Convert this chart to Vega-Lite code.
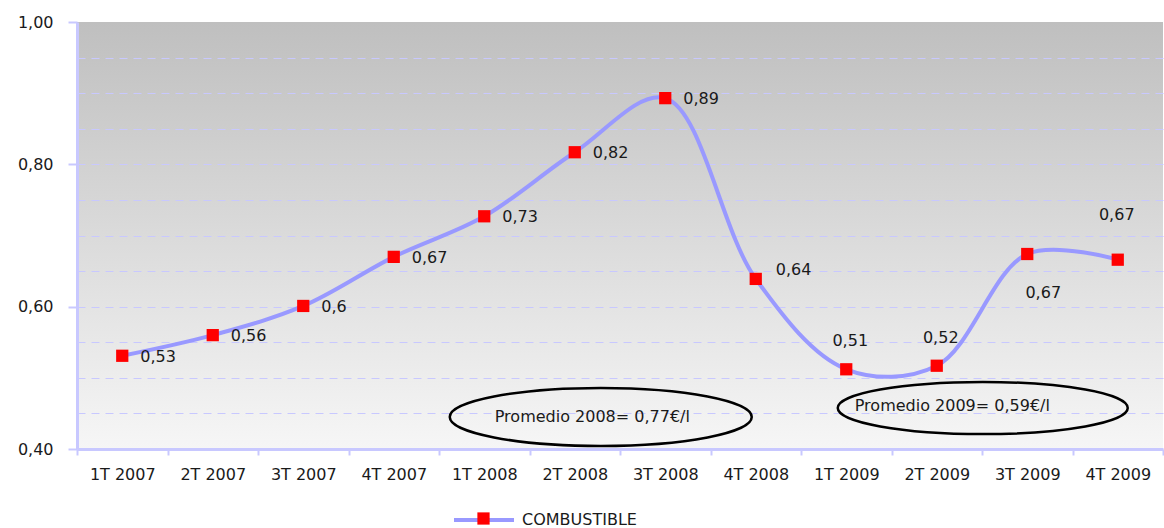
{
  "$schema": "https://vega.github.io/schema/vega-lite/v6.json",
  "autosize": "none",
  "padding": {"left": 77, "top": 22, "right": 1, "bottom": 79},
  "width": 1086,
  "height": 427,
  "background": "#ffffff",
  "config": {
    "font": "DejaVu Sans",
    "view": {
      "stroke": null,
      "fill": {"gradient": "linear", "x1": 0, "y1": 0, "x2": 0, "y2": 1,
        "stops": [{"offset": 0, "color": "#bfbfbf"}, {"offset": 1, "color": "#f6f6f6"}]}
    },
    "axis": {"labelFont": "DejaVu Sans", "labelFontSize": 16, "labelColor": "#1a1a1a", "title": null}
  },
  "data": {"values": [
    {"q": "1T 2007", "v": 0.531, "label": "0,53", "serie": "COMBUSTIBLE"},
    {"q": "2T 2007", "v": 0.560, "label": "0,56", "serie": "COMBUSTIBLE"},
    {"q": "3T 2007", "v": 0.601, "label": "0,6", "serie": "COMBUSTIBLE"},
    {"q": "4T 2007", "v": 0.670, "label": "0,67", "serie": "COMBUSTIBLE"},
    {"q": "1T 2008", "v": 0.727, "label": "0,73", "serie": "COMBUSTIBLE"},
    {"q": "2T 2008", "v": 0.817, "label": "0,82", "serie": "COMBUSTIBLE"},
    {"q": "3T 2008", "v": 0.893, "label": "0,89", "serie": "COMBUSTIBLE"},
    {"q": "4T 2008", "v": 0.639, "label": "0,64", "serie": "COMBUSTIBLE"},
    {"q": "1T 2009", "v": 0.512, "label": "0,51", "serie": "COMBUSTIBLE"},
    {"q": "2T 2009", "v": 0.517, "label": "0,52", "serie": "COMBUSTIBLE"},
    {"q": "3T 2009", "v": 0.674, "label": "0,67", "serie": "COMBUSTIBLE"},
    {"q": "4T 2009", "v": 0.666, "label": "0,67", "serie": "COMBUSTIBLE"}
  ]},
  "encoding": {
    "x": {"field": "q", "type": "nominal", "sort": null,
      "scale": {"type": "band", "paddingInner": 0, "paddingOuter": 0,
        "domain": ["1T 2007", "2T 2007", "3T 2007", "4T 2007", "1T 2008", "2T 2008", "3T 2008", "4T 2008", "1T 2009", "2T 2009", "3T 2009", "4T 2009"]},
      "axis": {"labelAngle": 0, "tickBand": "extent", "grid": false, "domainColor": "#c8c8ff", "domainWidth": 3,
        "tickColor": "#c8c8ff", "tickWidth": 2, "tickSize": 6, "labelPadding": 11}},
    "y": {"field": "v", "type": "quantitative",
      "scale": {"domain": [0.4, 1.0], "nice": false, "zero": false},
      "axis": {"values": [0.4, 0.45, 0.5, 0.55, 0.6, 0.65, 0.7, 0.75, 0.8, 0.85, 0.9, 0.95, 1.0],
        "labelExpr": "abs(datum.value*5 - round(datum.value*5)) < 0.001 ? replace(format(datum.value, '.2f'), '.', ',') : ''",
        "labelOverlap": false, "labelPadding": 15,
        "domainColor": "#c8c8ff", "domainWidth": 3,
        "tickColor": "#c8c8ff", "tickWidth": 2, "tickSize": 9,
        "tickOpacity": {"condition": {"test": "abs(datum.value*5 - round(datum.value*5)) < 0.001", "value": 1}, "value": 0},
        "grid": true, "gridColor": "#c8c8ff", "gridDash": [8, 6], "gridWidth": 1,
        "gridOpacity": {"condition": {"test": "datum.value > 0.41 && datum.value < 0.99", "value": 1}, "value": 0}}}
  },
  "layer": [
    {
      "mark": {"type": "line", "interpolate": "catmull-rom", "strokeWidth": 4},
      "encoding": {
        "stroke": {"field": "serie", "type": "nominal", "scale": {"range": ["#9999ff"]},
          "legend": {"orient": "none", "legendX": 375, "legendY": 466, "title": null, "padding": 0,
            "symbolType": "stroke", "symbolSize": 3600, "symbolStrokeWidth": 4,
            "labelFont": "DejaVu Sans", "labelFontSize": 16, "labelColor": "#1a1a1a", "labelOffset": 6}}
      }
    },
    {
      "mark": {"type": "point", "shape": "square", "filled": true, "size": 150, "opacity": 1},
      "encoding": {
        "fill": {"field": "serie", "type": "nominal", "scale": {"range": ["#ff0000"]},
          "legend": {"orient": "none", "legendX": 399, "legendY": 489, "title": null, "padding": 0,
            "symbolType": "square", "symbolSize": 150, "symbolStrokeWidth": 0, "symbolOpacity": 1,
            "labelExpr": "''", "labelFontSize": 15}}
      }
    },
    {
      "transform": [{"filter": {"field": "q", "oneOf": ["1T 2007", "2T 2007", "3T 2007", "4T 2007", "1T 2008", "2T 2008", "3T 2008"]}}],
      "mark": {"type": "text", "align": "left", "baseline": "middle", "dx": 18, "dy": 1, "fontSize": 16, "color": "#1a1a1a"},
      "encoding": {"text": {"field": "label"}}
    },
    {
      "transform": [{"filter": {"field": "q", "equal": "4T 2008"}}],
      "mark": {"type": "text", "align": "left", "baseline": "middle", "dx": 20, "dy": -9, "fontSize": 16, "color": "#1a1a1a"},
      "encoding": {"text": {"field": "label"}}
    },
    {
      "transform": [{"filter": {"field": "q", "oneOf": ["1T 2009", "2T 2009"]}}],
      "mark": {"type": "text", "align": "center", "baseline": "middle", "dx": 4, "dy": -28, "fontSize": 16, "color": "#1a1a1a"},
      "encoding": {"text": {"field": "label"}}
    },
    {
      "transform": [{"filter": {"field": "q", "equal": "3T 2009"}}],
      "mark": {"type": "text", "align": "center", "baseline": "middle", "dx": 16, "dy": 39, "fontSize": 16, "color": "#1a1a1a"},
      "encoding": {"text": {"field": "label"}}
    },
    {
      "transform": [{"filter": {"field": "q", "equal": "4T 2009"}}],
      "mark": {"type": "text", "align": "center", "baseline": "middle", "dx": -1, "dy": -45, "fontSize": 16, "color": "#1a1a1a"},
      "encoding": {"text": {"field": "label"}}
    },
    {
      "data": {"values": [{"q": "2T 2008", "v": 0.445, "txt": "Promedio 2008= 0,77€/l"}]},
      "mark": {"type": "point", "shape": "M-1,0A1,0.192,0,1,0,1,0A1,0.192,0,1,0,-1,0Z", "size": 91204, "filled": false,
        "stroke": "#000000", "strokeWidth": 2.5, "opacity": 1, "xOffset": 26}
    },
    {
      "data": {"values": [{"q": "2T 2008", "v": 0.445, "txt": "Promedio 2008= 0,77€/l"}]},
      "mark": {"type": "text", "align": "left", "baseline": "middle", "dx": -80, "fontSize": 16, "color": "#1a1a1a"},
      "encoding": {"text": {"field": "txt"}}
    },
    {
      "data": {"values": [{"q": "2T 2009", "v": 0.4576, "txt": "Promedio 2009= 0,59€/l"}]},
      "mark": {"type": "point", "shape": "M-1,0A1,0.18,0,1,0,1,0A1,0.18,0,1,0,-1,0Z", "size": 84100, "filled": false,
        "stroke": "#000000", "strokeWidth": 2.5, "opacity": 1, "xOffset": 46}
    },
    {
      "data": {"values": [{"q": "2T 2009", "v": 0.4576, "txt": "Promedio 2009= 0,59€/l"}]},
      "mark": {"type": "text", "align": "left", "baseline": "middle", "dx": -82, "dy": -2, "fontSize": 16, "color": "#1a1a1a"},
      "encoding": {"text": {"field": "txt"}}
    }
  ]
}
